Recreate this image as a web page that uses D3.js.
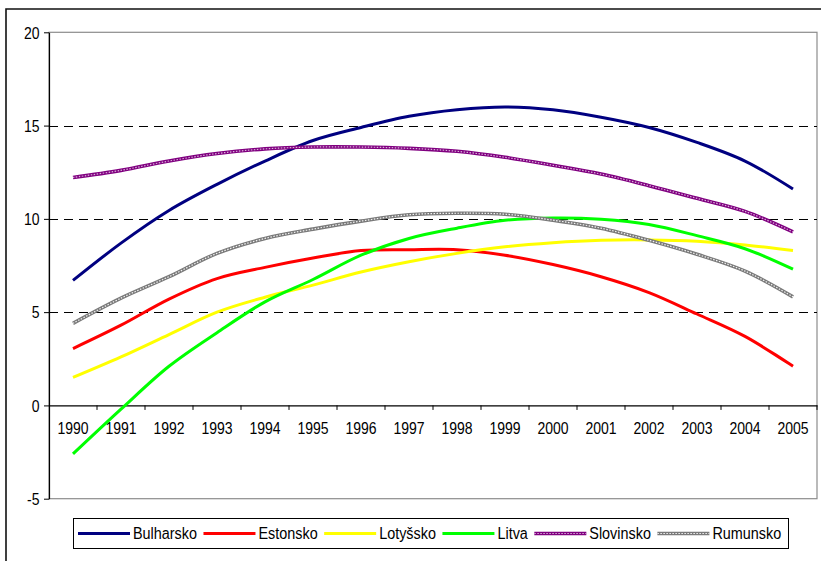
<!DOCTYPE html>
<html>
<head>
<meta charset="utf-8">
<script src="https://cdn.jsdelivr.net/npm/d3@7"></script>
<style>
  html, body { margin: 0; padding: 0; background: #fff; }
  svg { display: block; }
  text { font-family: Arial, "Liberation Sans", sans-serif; fill: #000; }
</style>
</head>
<body>
<svg id="chart" width="821" height="561"></svg>
<script>
const years = ["1990","1991","1992","1993","1994","1995","1996","1997","1998","1999","2000","2001","2002","2003","2004","2005"];
const yTicks = [-5, 0, 5, 10, 15, 20];
const gridValues = [5, 10, 15];
const seriesNames = ["Bulharsko", "Estonsko", "Lotyšsko", "Litva", "Slovinsko", "Rumunsko"];
const bulharsko = [6.7, 8.7, 10.45, 11.85, 13.1, 14.2, 14.9, 15.5, 15.85, 16.0, 15.85, 15.45, 14.9, 14.1, 13.1, 11.6];
const estonsko  = [3.05, 4.3, 5.7, 6.8, 7.4, 7.9, 8.3, 8.35, 8.35, 8.05, 7.55, 6.9, 6.05, 4.9, 3.7, 2.1];
const lotyssko  = [1.5, 2.6, 3.8, 5.0, 5.8, 6.45, 7.15, 7.7, 8.15, 8.5, 8.72, 8.85, 8.87, 8.8, 8.6, 8.3];
const litva     = [-2.6, -0.2, 2.1, 3.9, 5.55, 6.75, 8.05, 8.95, 9.5, 9.92, 10.05, 9.98, 9.7, 9.1, 8.4, 7.3];
const slovinsko = [12.22, 12.6, 13.1, 13.5, 13.75, 13.85, 13.85, 13.78, 13.62, 13.3, 12.87, 12.4, 11.78, 11.1, 10.4, 9.3];
const rumunsko  = [4.4, 5.75, 6.9, 8.15, 8.95, 9.45, 9.88, 10.22, 10.3, 10.25, 9.93, 9.5, 8.85, 8.1, 7.2, 5.82];

const seriesValues = [bulharsko, estonsko, lotyssko, litva, slovinsko, rumunsko];
const styles = [
  { color: "#000080", overlay: null },
  { color: "#FF0000", overlay: null },
  { color: "#FFFF00", overlay: null },
  { color: "#00FF00", overlay: null },
  { color: "#800080", overlay: "#d9b0d9", width: 3.6 },
  { color: "#7a7a7a", overlay: "#f2f2f2", width: 3.6 }
];
const series = seriesNames.map((n, i) => ({ name: n, values: seriesValues[i], style: styles[i] }));

const svg = d3.select("#chart");
const L = 49, R = 817, T = 32.3, B = 498.7;
const STRETCH = 1.17;

// outer chart border
svg.append("path")
  .attr("d", "M6,565 L6,9 L825,9")
  .attr("fill", "none").attr("stroke", "#111").attr("stroke-width", 1.6);

const x = d3.scaleBand().domain(years).range([L, R]).paddingInner(0).paddingOuter(0);
const y = d3.scaleLinear().domain([-5, 20]).range([B, T]);
const cx = d => x(d) + x.bandwidth() / 2;

// plot area border (gray)
svg.append("rect")
  .attr("x", L).attr("y", T).attr("width", R - L).attr("height", B - T)
  .attr("fill", "#fff").attr("stroke", "#8c8c8c").attr("stroke-width", 1.2);

// gridlines
svg.append("g").selectAll("line").data(gridValues).join("line")
  .attr("x1", L).attr("x2", R)
  .attr("y1", d => Math.round(y(d)) + 0.5).attr("y2", d => Math.round(y(d)) + 0.5)
  .attr("stroke", "#000").attr("stroke-width", 1)
  .attr("stroke-dasharray", "9,6");

// y axis
const yAxis = svg.append("g").attr("transform", `translate(${L},0)`)
  .call(d3.axisLeft(y).tickValues(yTicks).tickSize(5).tickSizeOuter(0).tickFormat(d => String(d)));
yAxis.select(".domain").attr("stroke", "#000").attr("stroke-width", 1.2);
yAxis.selectAll(".tick line").attr("stroke", "#000");
yAxis.selectAll(".tick text")
  .attr("x", null).attr("dy", null).attr("y", null)
  .attr("text-anchor", "end")
  .attr("transform", `translate(-9.5,5.8) scale(1,${STRETCH})`)
  .style("font-size", "14px").style("font-family", "Arial, 'Liberation Sans', sans-serif");

// x axis at zero
const y0 = y(0);
const xAxis = svg.append("g").attr("transform", `translate(0,${y0})`)
  .call(d3.axisBottom(x).tickSize(0).tickSizeOuter(0));
xAxis.select(".domain").attr("stroke", "#000").attr("stroke-width", 1.2);
xAxis.selectAll(".tick text")
  .attr("y", null).attr("dy", null)
  .attr("transform", `translate(0,29) scale(1,${STRETCH})`)
  .style("font-size", "14px").style("font-family", "Arial, 'Liberation Sans', sans-serif");
// boundary ticks between categories
const bounds = years.slice(1).map(d => x(d)).concat([R]);
svg.append("g").selectAll("line").data(bounds).join("line")
  .attr("x1", d => d).attr("x2", d => d)
  .attr("y1", y0).attr("y2", y0 + 4.5)
  .attr("stroke", "#000").attr("stroke-width", 1);

// series lines
const line = d3.line()
  .x((d, i) => cx(years[i]))
  .y(d => y(d))
  .curve(d3.curveCatmullRom.alpha(0.5));

const gLines = svg.append("g");
series.forEach(s => {
  gLines.append("path").datum(s.values)
    .attr("d", line)
    .attr("fill", "none")
    .attr("stroke", s.style.color)
    .attr("stroke-width", s.style.width || 3)
    .attr("stroke-linejoin", "round");
  if (s.style.overlay) {
    gLines.append("path").datum(s.values)
      .attr("d", line)
      .attr("fill", "none")
      .attr("stroke", s.style.overlay)
      .attr("stroke-width", 1.2)
      .attr("stroke-dasharray", "1.5,1.5");
  }
});

// legend
const legend = svg.append("g");
legend.append("rect")
  .attr("x", 73.5).attr("y", 518.5).attr("width", 715).attr("height", 30)
  .attr("fill", "#fff").attr("stroke", "#000").attr("stroke-width", 1);
let lx = 78;
const ly = 533.5;
series.forEach(s => {
  legend.append("line")
    .attr("x1", lx).attr("x2", lx + 52).attr("y1", ly).attr("y2", ly)
    .attr("stroke", s.style.color).attr("stroke-width", s.style.width || 3);
  if (s.style.overlay) {
    legend.append("line")
      .attr("x1", lx).attr("x2", lx + 52).attr("y1", ly).attr("y2", ly)
      .attr("stroke", s.style.overlay).attr("stroke-width", 1.2)
      .attr("stroke-dasharray", "1.5,1.5");
  }
  const t = legend.append("text")
    .attr("transform", `translate(${lx + 55},${ly + 5.3}) scale(1,${STRETCH})`)
    .style("font-size", "14.4px")
    .text(s.name);
  const w = t.node().getComputedTextLength();
  lx = lx + 55 + w + 6.5;
});
</script>
</body>
</html>
